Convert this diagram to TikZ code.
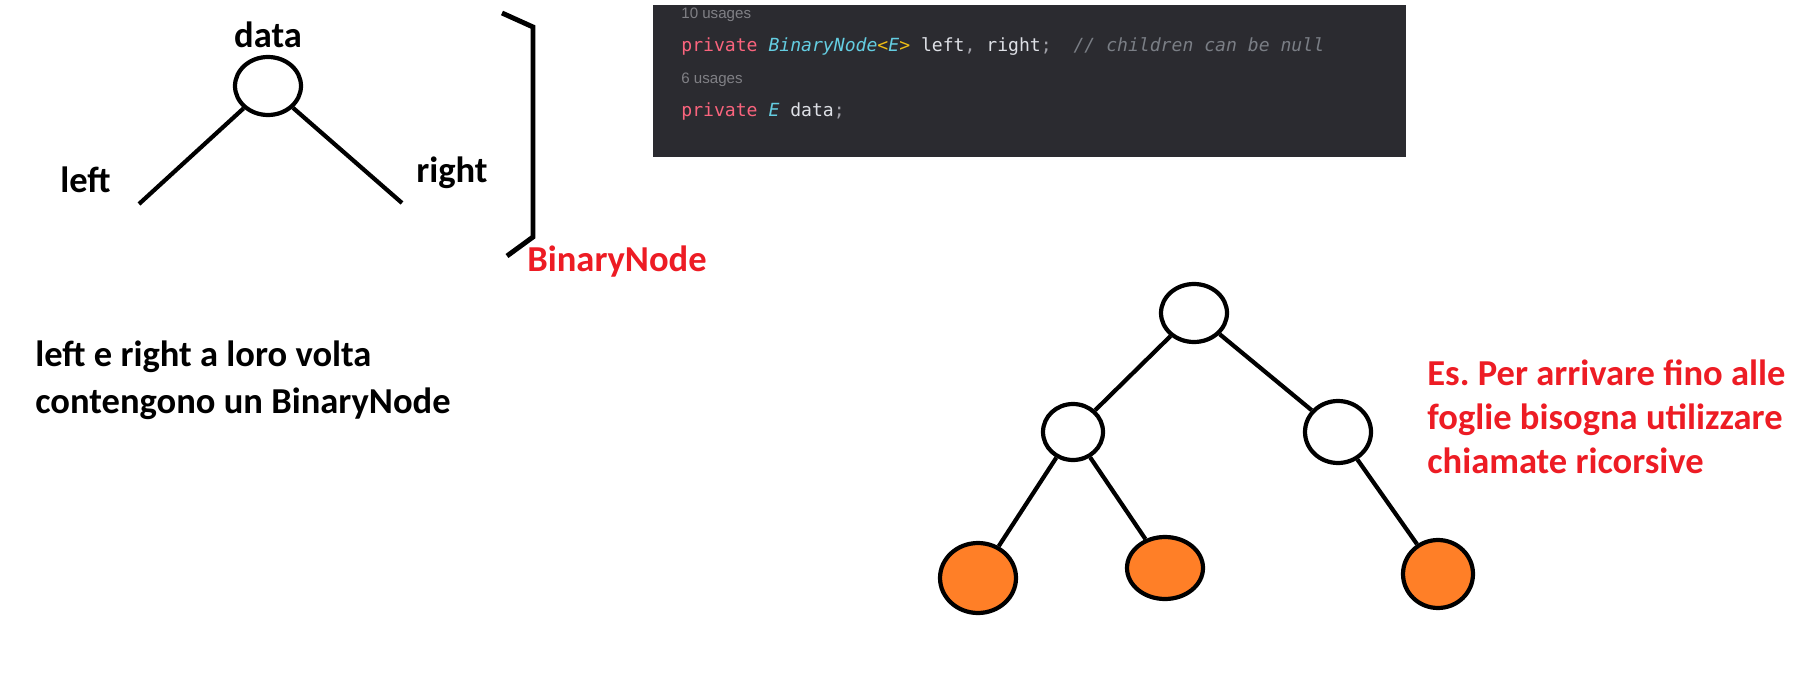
\documentclass[tikz,border=0pt]{standalone}
\usepackage{fontspec}
\setmainfont{Carlito}
\newfontfamily\codefont{DejaVu Sans Mono}
\newfontfamily\uifont{Liberation Sans}
\usetikzlibrary{shapes.geometric}
\definecolor{codebg}{RGB}{43, 43, 48}
\definecolor{kwpink}{RGB}{250, 100, 125}
\definecolor{typecyan}{RGB}{100, 205, 225}
\definecolor{brackyellow}{RGB}{240, 190, 20}
\definecolor{codewhite}{RGB}{222, 224, 230}
\definecolor{punctgray}{RGB}{160, 160, 168}
\definecolor{commentgray}{RGB}{122, 126, 133}
\definecolor{usagegray}{RGB}{128, 128, 133}
\definecolor{paintred}{RGB}{237, 28, 36}
\definecolor{leaforange}{RGB}{255, 127, 39}

\tikzset{
  treenode/.style={ellipse, draw=black, line width=2.4pt, fill=white, inner sep=0pt},
  leafnode/.style={treenode, fill=leaforange},
  branch/.style={black, line width=2.4pt},
  handlabel/.style={font=\fontsize{20.8}{25}\selectfont\bfseries, inner sep=0pt, anchor=base west},
  codepanel/.style={fill=codebg, inner sep=0pt, minimum width=15.06cm, minimum height=3.04cm},
  codeline/.style={font=\codefont\fontsize{10.3}{12}\selectfont, text=codewhite, anchor=base west, inner sep=0pt},
  usageline/.style={font=\uifont\fontsize{8.6}{10}\selectfont, text=usagegray, anchor=base west, inner sep=0pt}
}

\begin{document}
\begin{tikzpicture}[x=0.02cm, y=-0.02cm]
    \useasboundingbox (0,0) rectangle (1805,699);

    % one node with its two links
    \node[treenode, minimum width=1.32cm, minimum height=1.16cm] (top) at (268,86) {};
    \coordinate (leftend) at (139,204);
    \coordinate (rightend) at (402,203);
    \draw[branch] (top) -- (leftend);
    \draw[branch] (top) -- (rightend);
    \node[handlabel, anchor=base] (datalbl) at (268,48) {data};
    \node[handlabel] (leftlbl) at (60,193) {left};
    \node[handlabel] (rightlbl) at (416,183) {right};

    \draw[black, line width=2.8pt, line join=miter] (502,13) -- (533,27) -- (533,237) -- (507,256);
    \node[handlabel, text=paintred] (bnlbl) at (527,272) {BinaryNode};

    \node[handlabel, align=left] (note) at (35,413) {left e right a loro volta\\[1.5pt]contengono un BinaryNode};

    % code of the class
    \node[codepanel] (codebox) at (1029.5,81) {};
    \node[usageline] (use1) at (681,19) {10 usages};
    \node[codeline] (code1) at (681,52) {\textcolor{kwpink}{private} \textcolor{typecyan}{\itshape BinaryNode}\textcolor{brackyellow}{<}\textcolor{typecyan}{\itshape E}\textcolor{brackyellow}{>} left\textcolor{punctgray}{,} right\textcolor{punctgray}{;}\ \ \textcolor{commentgray}{\itshape // children can be null}};
    \node[usageline] (use2) at (681,84) {6 usages};
    \node[codeline] (code2) at (681,117) {\textcolor{kwpink}{private} \textcolor{typecyan}{\itshape E} data\textcolor{punctgray}{;}};

    % example tree
    \node[treenode, minimum width=1.32cm, minimum height=1.16cm] (root) at (1194,313) {};
    \node[treenode, minimum width=1.2cm, minimum height=1.12cm] (midleft) at (1073,432) {};
    \node[treenode, minimum width=1.32cm, minimum height=1.24cm] (midright) at (1338,432) {};
    \node[leafnode, minimum width=1.52cm, minimum height=1.4cm] (leafa) at (978,578) {};
    \node[leafnode, minimum width=1.52cm, minimum height=1.24cm] (leafb) at (1165,568) {};
    \node[leafnode, minimum width=1.4cm, minimum height=1.36cm] (leafc) at (1438,574) {};
    \draw[branch] (root) -- (midleft);
    \draw[branch] (root) -- (midright);
    \draw[branch] (midleft) -- (leafa);
    \draw[branch] (midleft) -- (leafb);
    \draw[branch] (midright) -- (leafc);

    \node[handlabel, align=left, text=paintred] (example) at (1427,473) {Es.\ Per arrivare fino alle\\foglie bisogna utilizzare\\chiamate ricorsive};
\end{tikzpicture}
\end{document}
